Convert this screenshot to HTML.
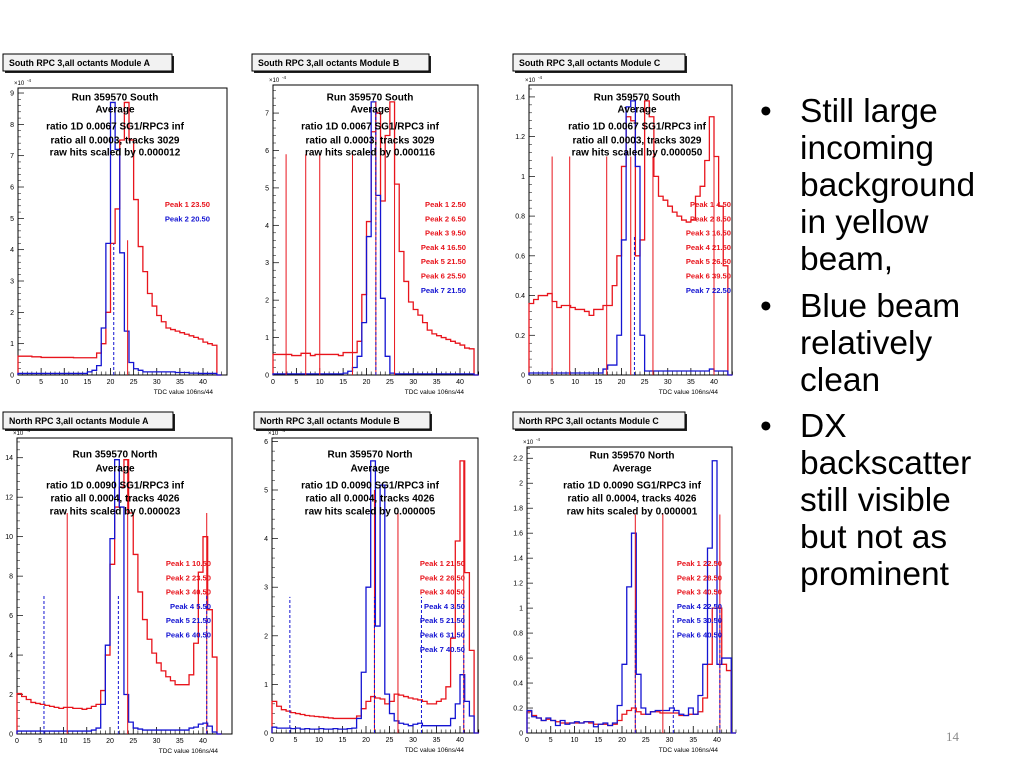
<!DOCTYPE html>
<html><head><meta charset="utf-8"><style>
html,body{margin:0;padding:0;background:#fff;}
svg{display:block;}
text{font-family:"Liberation Sans",Arial,sans-serif;}
</style></head><body>
<svg id="slide" width="1024" height="768" viewBox="0 0 1024 768" xmlns="http://www.w3.org/2000/svg">
<g id="panels"></g>
<g id="bullets" font-size="33.5" fill="#000">
  <text x="760" y="122">•</text>
  <text x="800" y="122">Still large</text>
  <text x="800" y="159">incoming</text>
  <text x="800" y="196">background</text>
  <text x="800" y="233">in yellow</text>
  <text x="800" y="270">beam,</text>
  <text x="760" y="317">•</text>
  <text x="800" y="317">Blue beam</text>
  <text x="800" y="354">relatively</text>
  <text x="800" y="391">clean</text>
  <text x="760" y="437">•</text>
  <text x="800" y="437">DX</text>
  <text x="800" y="474">backscatter</text>
  <text x="800" y="511">still visible</text>
  <text x="800" y="548">but not as</text>
  <text x="800" y="585">prominent</text>
</g>
<text x="946" y="741" font-size="13" fill="#8a8a8a" style="font-family:'Liberation Serif',serif">14</text>
</svg>
<script>
// ---- data (units of 1e-4, 44 bins from 0 to 44) ----
const redA=[0.6,0.6,0.6,0.58,0.58,0.56,0.56,0.56,0.56,0.56,0.56,0.56,0.55,0.55,0.55,0.55,0.55,0.7,1.0,2.0,4.2,5.3,7.5,8.7,7.5,5.6,4.1,3.3,2.6,2.2,1.9,1.7,1.5,1.45,1.4,1.35,1.3,1.25,1.2,1.15,1.05,1.0,0.95,0];
const blueA=[0.05,0.05,0.05,0.05,0.05,0.05,0.05,0.05,0.05,0.05,0.05,0.05,0.05,0.05,0.05,0.1,0.15,0.3,1.5,4.2,8.7,7.2,3.9,1.4,0.4,0.2,0.15,0.1,0.1,0.1,0.1,0.1,0.1,0.1,0.08,0.08,0.08,0.06,0.06,0.05,0.05,0.05,0.05,0];
const redB=[0.55,0.55,0.55,0.55,0.52,0.52,0.58,0.58,0.52,0.55,0.55,0.55,0.55,0.55,0.52,0.6,0.6,0.6,0.9,2.15,4.1,6.5,7.0,4.65,6.4,7.3,5.1,3.3,2.5,1.95,1.75,1.6,1.4,1.2,1.1,1.05,1.0,0.95,0.9,0.85,0.8,0.72,0.7,0];
const blueB=[0.03,0.03,0.03,0.03,0.03,0.03,0.03,0.03,0.03,0.03,0.03,0.03,0.03,0.03,0.03,0.05,0.1,0.2,0.5,1.4,3.7,7.3,4.8,2.05,0.5,0.05,0.03,0.03,0.03,0.03,0.03,0.03,0.03,0.03,0.03,0.03,0.03,0.03,0.03,0.03,0.03,0.03,0.03,0];
const redC=[0.36,0.38,0.4,0.4,0.41,0.37,0.34,0.35,0.35,0.34,0.33,0.33,0.32,0.3,0.33,0.33,0.35,0.35,0.45,0.6,1.05,1.3,1.28,0.6,0.68,1.38,1.3,1.0,0.9,0.88,0.85,0.82,0.8,0.78,0.77,0.78,0.9,0.95,1.08,1.3,1.1,0.85,0.55,0];
const blueC=[0.01,0.01,0.01,0.01,0.01,0.01,0.01,0.01,0.01,0.01,0.01,0.01,0.01,0.01,0.01,0.01,0.03,0.05,0.05,0.2,0.68,1.35,1.38,1.05,0.2,0.02,0.02,0.02,0.02,0.02,0.02,0.02,0.02,0.02,0.02,0.02,0.02,0.02,0.02,0.03,0.02,0.02,0.02,0];
const redD=[2.05,1.9,1.75,1.6,1.55,1.5,1.45,1.4,1.35,1.3,1.35,1.35,1.3,1.3,1.25,1.3,1.4,1.5,2.2,4.0,8.6,11.5,12.5,13.9,11.2,9.1,7.2,5.8,4.8,4.1,3.6,3.2,2.9,2.7,2.5,2.5,2.5,3.0,4.6,8.2,10.0,6.3,3.9,0];
const blueD=[0.15,0.15,0.15,0.15,0.15,0.15,0.15,0.15,0.15,0.15,0.15,0.15,0.15,0.15,0.15,0.15,0.2,0.3,1.5,4.5,9.9,13.9,11.5,2.0,0.6,0.3,0.25,0.2,0.2,0.2,0.2,0.2,0.2,0.2,0.2,0.2,0.2,0.3,0.35,0.5,0.55,0.4,0.1,0];
const redE=[0.65,0.55,0.48,0.45,0.42,0.4,0.38,0.36,0.35,0.34,0.33,0.32,0.31,0.3,0.3,0.3,0.3,0.3,0.35,0.5,0.65,0.75,0.72,0.7,0.6,0.65,0.8,0.78,0.75,0.72,0.7,0.68,0.65,0.6,0.6,0.65,0.7,0.95,1.95,3.95,5.6,3.3,1.7,0];
const blueE=[0.12,0.1,0.1,0.1,0.09,0.1,0.08,0.09,0.08,0.08,0.09,0.08,0.08,0.09,0.08,0.08,0.09,0.1,0.3,1.25,3.0,5.6,2.2,5.1,0.8,0.4,0.25,0.2,0.18,0.15,0.18,0.2,0.15,0.15,0.15,0.15,0.15,0.15,0.3,0.6,1.2,0.65,0.35,0];
const redF=[0.17,0.14,0.12,0.1,0.11,0.1,0.09,0.08,0.08,0.08,0.08,0.08,0.09,0.08,0.07,0.07,0.07,0.06,0.07,0.1,0.15,0.18,0.2,0.17,0.15,0.15,0.17,0.17,0.16,0.16,0.16,0.16,0.14,0.14,0.15,0.15,0.17,0.28,0.55,1.0,1.0,0.55,0.5,0];
const blueF=[0.18,0.13,0.12,0.1,0.12,0.1,0.06,0.1,0.07,0.08,0.09,0.08,0.09,0.09,0.05,0.07,0.08,0.06,0.08,0.22,0.55,1.17,1.6,0.47,0.2,0.15,0.17,0.18,0.18,0.18,0.2,0.18,0.15,0.14,0.2,0.15,0.3,0.55,1.48,2.18,0.55,0.6,0.6,0];
const xTickLabels=[0,5,10,15,20,25,30,35,40];
const peakLabelsA=[["Peak 1 23.50","r"],["Peak 2 20.50","b"]];
const peakLabelsB=[["Peak 1 2.50","r"],["Peak 2 6.50","r"],["Peak 3 9.50","r"],["Peak 4 16.50","r"],["Peak 5 21.50","r"],["Peak 6 25.50","r"],["Peak 7 21.50","b"]];
const peakLabelsC=[["Peak 1 4.50","r"],["Peak 2 8.50","r"],["Peak 3 16.50","r"],["Peak 4 21.50","r"],["Peak 5 26.50","r"],["Peak 6 39.50","r"],["Peak 7 22.50","b"]];
const peakLabelsD=[["Peak 1 10.50","r"],["Peak 2 23.50","r"],["Peak 3 40.50","r"],["Peak 4 5.50","b"],["Peak 5 21.50","b"],["Peak 6 40.50","b"]];
const peakLabelsE=[["Peak 1 21.50","r"],["Peak 2 26.50","r"],["Peak 3 40.50","r"],["Peak 4 3.50","b"],["Peak 5 21.50","b"],["Peak 6 31.50","b"],["Peak 7 40.50","b"]];
const peakLabelsF=[["Peak 1 22.50","r"],["Peak 2 28.50","r"],["Peak 3 40.50","r"],["Peak 4 22.50","b"],["Peak 5 30.50","b"],["Peak 6 40.50","b"]];
const linesA=[[23.7,4.3,"r"],[20.7,4.2,"b"]];
const linesB=[[2.8,5.9,"r"],[7,5.9,"r"],[10,5.9,"r"],[17,5.9,"r"],[22,7.3,"r"],[26,5.9,"r"],[22,7.2,"b"]];
const linesC=[[5,1.1,"r"],[8.8,1.1,"r"],[16.8,1.1,"r"],[22,1.1,"r"],[26.8,1.1,"r"],[40,1.1,"r"],[22.8,0.7,"b"]];
const linesD=[[10.8,11.2,"r"],[23.8,13.9,"r"],[40.8,11.2,"r"],[5.8,7.0,"b"],[21.8,7.0,"b"],[40.8,7.0,"b"]];
const linesE=[[21.8,5.0,"r"],[26.8,4.55,"r"],[40.8,5.6,"r"],[3.8,2.8,"b"],[21.8,2.8,"b"],[31.8,2.8,"b"],[40.8,2.8,"b"]];
const linesF=[[22.8,1.75,"r"],[28.6,1.75,"r"],[40.6,1.75,"r"],[22.8,1.0,"b"],[30.8,1.0,"b"],[40.6,1.0,"b"]];

const RED="#e8141c", BLUE="#1414d2";
const panels=[
 {name:"south-module-a",title:"South RPC 3,all octants Module A",tb:[3,54,169,17],L:18,R:227,T:88,B:375,x40:203,yMax:9.16,yStep:1,dec:0,side:"South",tracks:"ratio all 0.0003, tracks 3029",r1:"ratio 1D 0.0067 SG1/RPC3 inf",scale:"raw hits scaled by 0.000012",tx:115,ty:[97,109,126,140,152],red:redA,blue:blueA,labels:peakLabelsA,lr:210,ly:204,lines:linesA},
 {name:"south-module-b",title:"South RPC 3,all octants Module B",tb:[252,54,177,17],L:273,R:478,T:85,B:375,x40:460,yMax:7.75,yStep:1,dec:0,side:"South",tracks:"ratio all 0.0003, tracks 3029",r1:"ratio 1D 0.0067 SG1/RPC3 inf",scale:"raw hits scaled by 0.000116",tx:370,ty:[97,109,126,140,152],red:redB,blue:blueB,labels:peakLabelsB,lr:466,ly:204,lines:linesB},
 {name:"south-module-c",title:"South RPC 3,all octants Module C",tb:[513,54,172,17],L:529,R:732,T:85,B:375,x40:714,yMax:1.46,yStep:0.2,dec:1,side:"South",tracks:"ratio all 0.0003, tracks 3029",r1:"ratio 1D 0.0067 SG1/RPC3 inf",scale:"raw hits scaled by 0.000050",tx:637,ty:[97,109,126,140,152],red:redC,blue:blueC,labels:peakLabelsC,lr:731,ly:204,lines:linesC},
 {name:"north-module-a",title:"North RPC 3,all octants Module A",tb:[3,412,170,17],L:17,R:232,T:438,B:734,x40:203,yMax:15,yStep:2,dec:0,side:"North",tracks:"ratio all 0.0004, tracks 4026",r1:"ratio 1D 0.0090 SG1/RPC3 inf",scale:"raw hits scaled by 0.000023",tx:115,ty:[454,468,485,498,511],red:redD,blue:blueD,labels:peakLabelsD,lr:211,ly:563,lines:linesD},
 {name:"north-module-b",title:"North RPC 3,all octants Module B",tb:[254,412,176,17],L:272,R:478,T:438,B:733,x40:460,yMax:6.07,yStep:1,dec:0,side:"North",tracks:"ratio all 0.0004, tracks 4026",r1:"ratio 1D 0.0090 SG1/RPC3 inf",scale:"raw hits scaled by 0.000005",tx:370,ty:[454,468,485,498,511],red:redE,blue:blueE,labels:peakLabelsE,lr:465,ly:563,lines:linesE},
 {name:"north-module-c",title:"North RPC 3,all octants Module C",tb:[513,412,172,17],L:527,R:732,T:447,B:733,x40:717,yMax:2.29,yStep:0.2,dec:1,side:"North",tracks:"ratio all 0.0004, tracks 4026",r1:"ratio 1D 0.0090 SG1/RPC3 inf",scale:"raw hits scaled by 0.000001",tx:632,ty:[455,468,485,498,511],red:redF,blue:blueF,labels:peakLabelsF,lr:722,ly:563,lines:linesF}
];
const NS="http://www.w3.org/2000/svg";
const root=document.getElementById("panels");
function mk(tag,attrs,parent,txt){const e=document.createElementNS(NS,tag);for(const k in attrs)e.setAttribute(k,attrs[k]);if(txt!==undefined)e.textContent=txt;parent.appendChild(e);return e;}
function fmt(v,d){let s=v.toFixed(d);if(d>0){s=s.replace(/0+$/,"").replace(/\.$/,"");}return s;}
panels.forEach(p=>{
  const g=mk("g",{},root);
  
  
  const xs=v=>p.L+(p.x40-p.L)*v/40;
  const ys=v=>p.B-(p.B-p.T)*v/p.yMax;
  const [bx,by,bw,bh]=p.tb;
  const sh=mk("rect",{x:bx+2,y:by+2,width:bw,height:bh,fill:"#222"},g);
  
  
  const tb=mk("rect",{x:bx,y:by,width:bw,height:bh,fill:"#f2f2f2",stroke:"#000","stroke-width":1},g);
  
  
  const tt=mk("text",{x:bx+6,y:by+12,"font-size":"8.8","font-weight":"bold"},g,p.title);
  
  
  const fr=mk("rect",{x:p.L,y:p.T,width:p.R-p.L,height:p.B-p.T,fill:"#fff",stroke:"#000","stroke-width":1},g);
  
  
  const nT=Math.floor(p.yMax/p.yStep+1e-6);
  for(let i=0;i<=nT;i++){
    const v=i*p.yStep, y=ys(v);
    const t=mk("line",{x1:p.L,x2:p.L+6,y1:y,y2:y,stroke:"#000","stroke-width":0.7},g);
    
    
    for(let m=1;m<5;m++){const ym=ys(v+m*p.yStep/5); if(ym<p.T)break; mk("line",{x1:p.L,x2:p.L+3,y1:ym,y2:ym,stroke:"#000","stroke-width":0.5},g);}
    const lb=mk("text",{x:p.L-4,y:y+2.5,"font-size":"7","text-anchor":"end"},g,fmt(v,p.dec));
    
    
  }
  const ex=mk("text",{x:p.L-4,y:p.T-3,"font-size":"6"},g,"×10");
  
  
  mk("text",{x:p.L+9,y:p.T-6,"font-size":"4.5"},g,"-4");
  for(let u=0;u<=44;u++){
    const x=xs(u), maj=(u%5===0);
    mk("line",{x1:x,x2:x,y1:p.B,y2:p.B-(maj?7:3.5),stroke:"#000","stroke-width":maj?0.8:0.6},g);
  }
  xTickLabels.forEach(v=>{
    const lb=mk("text",{x:xs(v),y:p.B+9,"font-size":"7","text-anchor":"middle"},g,String(v));
    
    
  });
  const xt=mk("text",{x:p.R-14,y:p.B+19,"font-size":"6.5","text-anchor":"end"},g,"TDC value 106ns/44");
  
  
  function hist(arr,col,nm){
    let d="M"+xs(0)+","+ys(0);
    arr.forEach((v,i)=>{d+=" L"+xs(i)+","+ys(v)+" L"+xs(i+1)+","+ys(v);});
    d+=" L"+xs(arr.length)+","+ys(0);
    const h=mk("path",{d:d,fill:"none",stroke:col,"stroke-width":1.3},g);
    
    
  }
  hist(p.red,RED,"red-histogram");
  hist(p.blue,BLUE,"blue-histogram");
  p.lines.forEach(l=>{
    const c=l[2]==="r"?RED:BLUE;
    const ln=mk("line",{x1:xs(l[0]),x2:xs(l[0]),y1:ys(0),y2:ys(l[1]),stroke:c,"stroke-width":1,"stroke-dasharray":l[2]==="b"?"3,2":"none"},g);
    
    
  });
  const lines=["Run 359570 "+p.side,"Average",p.r1,p.tracks,p.scale];
  lines.forEach((s,i)=>{
    const t=mk("text",{x:p.tx,y:p.ty[i]+3.5,"font-size":"10","font-weight":"bold","text-anchor":"middle"},g,s);
    
    
  });
  p.labels.forEach((lb,i)=>{
    const t=mk("text",{x:p.lr,y:p.ly+i*14.3+3,"font-size":"7.6","font-weight":"bold","text-anchor":"end",fill:lb[1]==="r"?RED:BLUE},g,lb[0]);
    
    
  });
});
</script>
</body></html>
